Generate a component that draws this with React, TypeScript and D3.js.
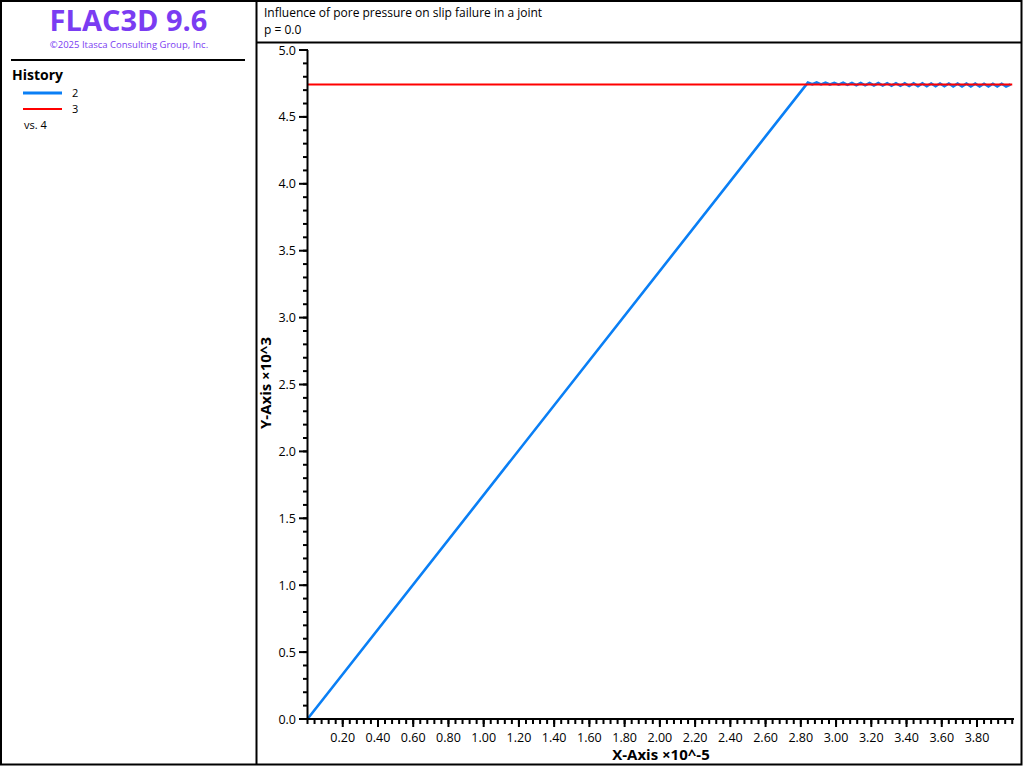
import React from "react";
import * as d3 from "d3";

// ---- data (x in units of 1e-5, y in units of 1e3) ----
const blueX = [0.0, 2.84, 2.865, 2.89, 2.915, 2.94, 2.965, 2.99, 3.015, 3.04, 3.065, 3.09, 3.115, 3.14, 3.165, 3.19, 3.215, 3.24, 3.265, 3.29, 3.315, 3.34, 3.365, 3.39, 3.415, 3.44, 3.465, 3.49, 3.515, 3.54, 3.565, 3.59, 3.615, 3.64, 3.665, 3.69, 3.715, 3.74, 3.765, 3.79, 3.815, 3.84, 3.865, 3.89, 3.915, 3.94, 3.965, 3.99];
const blueY = [0.0, 4.756, 4.744, 4.757, 4.743, 4.756, 4.742, 4.755, 4.741, 4.755, 4.739, 4.754, 4.737, 4.754, 4.736, 4.753, 4.735, 4.753, 4.734, 4.752, 4.733, 4.752, 4.732, 4.751, 4.731, 4.751, 4.73, 4.751, 4.73, 4.75, 4.729, 4.75, 4.729, 4.75, 4.728, 4.749, 4.728, 4.749, 4.728, 4.749, 4.727, 4.748, 4.727, 4.748, 4.727, 4.748, 4.727, 4.742];
const redX = [0.0, 4.0];
const redY = [4.742, 4.742];
const xTicks = [0.2, 0.4, 0.6, 0.8, 1.0, 1.2, 1.4, 1.6, 1.8, 2.0, 2.2, 2.4, 2.6, 2.8, 3.0, 3.2, 3.4, 3.6, 3.8];
const yTicks = [0.0, 0.5, 1.0, 1.5, 2.0, 2.5, 3.0, 3.5, 4.0, 4.5, 5.0];
const legendItems = ["2", "3"];
const legendColors = ["#0a7ff5", "#ff0000"];

const FONT = "'Open Sans', 'Noto Sans', sans-serif";

export default function App() {
  const W = 1024, H = 768;
  const x = d3.scaleLinear().domain([0, 4.01]).range([307.5, 1014]);
  const y = d3.scaleLinear().domain([0, 5]).range([719, 50]);
  const line = d3.line<[number, number]>().x(d => x(d[0])).y(d => y(d[1]));
  const blue = blueX.map((v, i) => [v, blueY[i]] as [number, number]);
  const red = redX.map((v, i) => [v, redY[i]] as [number, number]);

  const xMinor = d3.range(0, 4.0001, 0.04).filter(v => x(v) <= 1014.5);
  const yMinor = d3.range(0, 5.0001, 0.1);

  return (
    <svg width={W} height={H} style={{ position: "absolute", left: 0, top: 0, background: "#fff" }} fontFamily={FONT}>
      <rect x={0} y={0} width={W} height={H} fill="#fff" />
      {/* frames */}
      <rect x={1} y={1} width={1020.5} height={763.5} fill="none" stroke="#000" strokeWidth={2} />
      <line x1={256.5} y1={0} x2={256.5} y2={765} stroke="#000" strokeWidth={2} />
      <line x1={256} y1={42.5} x2={1022} y2={42.5} stroke="#000" strokeWidth={2} />
      <line x1={11} y1={60} x2={245} y2={60} stroke="#000" strokeWidth={2} />

      {/* left panel */}
      <text x={128.5} y={31} textAnchor="middle" fontSize={29} fontWeight="bold" fill="#7a3cf2">FLAC3D 9.6</text>
      <text x={129} y={48} textAnchor="middle" fontSize={9.5} fill="#7a3cf2">©2025 Itasca Consulting Group, Inc.</text>
      <text x={12} y={80} fontSize={14} fontWeight="bold" fill="#000">History</text>
      {legendItems.map((t, i) => (
        <g key={t}>
          <line x1={23} x2={62} y1={93 + i * 16} y2={93 + i * 16} stroke={legendColors[i]} strokeWidth={i === 0 ? 3 : 2} />
          <text x={72} y={97 + i * 16} fontSize={11} fill="#000">{t}</text>
        </g>
      ))}
      <text x={24} y={129} fontSize={11} fill="#000">vs. 4</text>

      {/* title */}
      <text x={264} y={17} fontSize={12} fill="#000">Influence of pore pressure on slip failure in a joint</text>
      <text x={264} y={34} fontSize={12} fill="#000">p = 0.0</text>

      {/* data */}
      <path d={line(blue) || ""} fill="none" stroke="#0a7ff5" strokeWidth={2.6} />
      <path d={line(red) || ""} fill="none" stroke="#ff0000" strokeWidth={2} />

      {/* axes */}
      <line x1={307.5} y1={50} x2={307.5} y2={719.5} stroke="#000" strokeWidth={2} />
      <line x1={307} y1={719} x2={1014} y2={719} stroke="#000" strokeWidth={2} />
      {yMinor.map((v, i) => (
        <line key={"ym" + i} x1={303} x2={308} y1={y(v)} y2={y(v)} stroke="#000" strokeWidth={2} />
      ))}
      {yTicks.map(v => (
        <g key={"yt" + v}>
          <line x1={299} x2={308} y1={y(v)} y2={y(v)} stroke="#000" strokeWidth={2} />
          <text x={296} y={y(v) + 4.5} textAnchor="end" fontSize={12.5} fill="#000">{v.toFixed(1)}</text>
        </g>
      ))}
      {xMinor.map((v, i) => (
        <line key={"xm" + i} x1={x(v)} x2={x(v)} y1={719} y2={724} stroke="#000" strokeWidth={2} />
      ))}
      {xTicks.map(v => (
        <g key={"xt" + v}>
          <line x1={x(v)} x2={x(v)} y1={719} y2={727} stroke="#000" strokeWidth={2} />
          <text x={x(v)} y={742} textAnchor="middle" fontSize={12.5} fill="#000">{v.toFixed(2)}</text>
        </g>
      ))}
      <text x={661} y={760} textAnchor="middle" fontSize={15} fontWeight="bold" fill="#000">X-Axis ×10^-5</text>
      <text transform={`translate(271,383) rotate(-90)`} textAnchor="middle" fontSize={15} fontWeight="bold" fill="#000">Y-Axis ×10^3</text>
    </svg>
  );
}
